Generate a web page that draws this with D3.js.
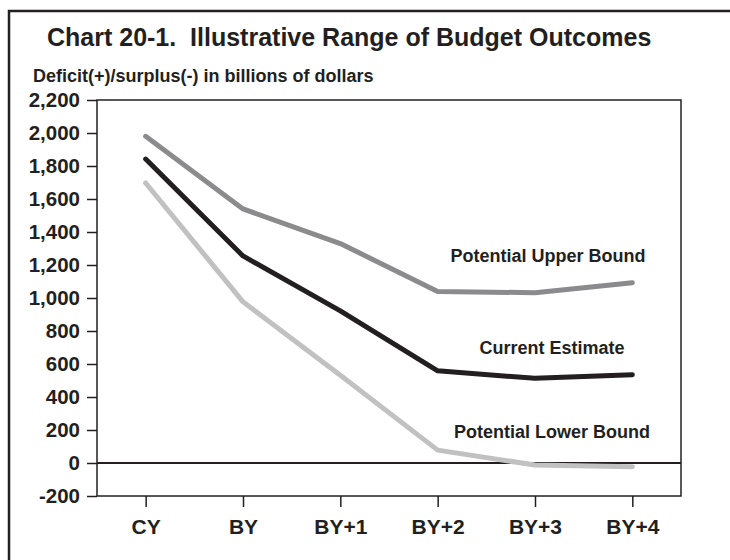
<!DOCTYPE html>
<html>
<head>
<meta charset="utf-8">
<script src="https://cdn.jsdelivr.net/npm/d3@7"></script>
<style>
  body { margin: 0; background: #fff; }
  text { font-family: "Liberation Sans", Arial, Helvetica, sans-serif; font-weight: bold; fill: #231f20; }
</style>
</head>
<body>
<div id="chart"></div>
<script>
// data
var years = ["CY", "BY", "BY+1", "BY+2", "BY+3", "BY+4"];
var upperBound = [1980, 1540, 1330, 1040, 1032, 1092];
var currentEstimate = [1842, 1255, 922, 559, 513, 535];
var lowerBound = [1697, 977, 532, 78, -12, -22];
var yTicks = [-200, 0, 200, 400, 600, 800, 1000, 1200, 1400, 1600, 1800, 2000, 2200];

var svgWidth = 730, svgHeight = 560;
var margin = { top: 100, right: 49, bottom: 64, left: 97 };
var chartWidth = svgWidth - margin.left - margin.right;
var chartHeight = svgHeight - margin.top - margin.bottom;

var svg = d3.select("#chart").append("svg")
    .attr("width", svgWidth)
    .attr("height", svgHeight);

// outer frame (runs off the right and bottom edges)
svg.append("rect")
    .attr("x", 9).attr("y", 11)
    .attr("width", 800).attr("height", 700)
    .attr("fill", "none")
    .attr("stroke", "#231f20")
    .attr("stroke-width", 2.5);

svg.append("text")
    .attr("x", 47).attr("y", 46)
    .style("font-size", "25px")
    .style("white-space", "pre")
    .text("Chart 20-1.  Illustrative Range of Budget Outcomes");

svg.append("text")
    .attr("x", 33).attr("y", 82)
    .style("font-size", "18px")
    .text("Deficit(+)/surplus(-) in billions of dollars");

var chartGroup = svg.append("g")
    .attr("transform", `translate(${margin.left}, ${margin.top})`);

var xScale = d3.scalePoint()
    .domain(years)
    .range([0, chartWidth])
    .padding(0.5);

var yScale = d3.scaleLinear()
    .domain([-200, 2200])
    .range([chartHeight, 0]);

// plot box
chartGroup.append("rect")
    .attr("width", chartWidth)
    .attr("height", chartHeight)
    .attr("fill", "none")
    .attr("stroke", "#231f20")
    .attr("stroke-width", 1.5);

var leftAxis = d3.axisLeft(yScale)
    .tickValues(yTicks)
    .tickSize(10)
    .tickPadding(7)
    .tickFormat(d => d3.format(",")(d).replace("\u2212", "-"));
var yAxis = chartGroup.append("g").call(leftAxis);
yAxis.select(".domain").remove();
yAxis.selectAll("line").attr("stroke", "#231f20").attr("stroke-width", 1.5);
yAxis.selectAll("text")
    .style("font-size", "20.5px")
    .style("font-family", "'Liberation Sans', Arial, sans-serif")
    .style("font-weight", "bold")
    .attr("fill", "#231f20");

var bottomAxis = d3.axisBottom(xScale)
    .tickSize(11)
    .tickPadding(12);
var xAxis = chartGroup.append("g")
    .attr("transform", `translate(0, ${chartHeight})`)
    .call(bottomAxis);
xAxis.select(".domain").remove();
xAxis.selectAll("line").attr("stroke", "#231f20").attr("stroke-width", 1.5);
xAxis.selectAll("text")
    .style("font-size", "21px")
    .style("font-family", "'Liberation Sans', Arial, sans-serif")
    .style("font-weight", "bold")
    .attr("fill", "#231f20");

// zero line
chartGroup.append("line")
    .attr("x1", 0).attr("x2", chartWidth)
    .attr("y1", yScale(0)).attr("y2", yScale(0))
    .attr("stroke", "#231f20")
    .attr("stroke-width", 2);

var line = d3.line()
    .x((d, i) => xScale(years[i]))
    .y(d => yScale(d));

var series = [
    { values: lowerBound, color: "#c1c1c2" },
    { values: upperBound, color: "#8b8b8d" },
    { values: currentEstimate, color: "#231f20" }
];
series.forEach(function(s) {
    chartGroup.append("path")
        .datum(s.values)
        .attr("d", line)
        .attr("fill", "none")
        .attr("stroke", s.color)
        .attr("stroke-width", 5)
        .attr("stroke-linejoin", "round")
        .attr("stroke-linecap", "round");
});

// series labels
var labels = [
    { text: "Potential Upper Bound", x: 548, y: 262 },
    { text: "Current Estimate", x: 552, y: 354 },
    { text: "Potential Lower Bound", x: 552, y: 438 }
];
svg.selectAll(".seriesLabel")
    .data(labels)
    .enter().append("text")
    .attr("class", "seriesLabel")
    .attr("x", d => d.x)
    .attr("y", d => d.y)
    .attr("text-anchor", "middle")
    .style("font-size", "18px")
    .text(d => d.text);
</script>
</body>
</html>
